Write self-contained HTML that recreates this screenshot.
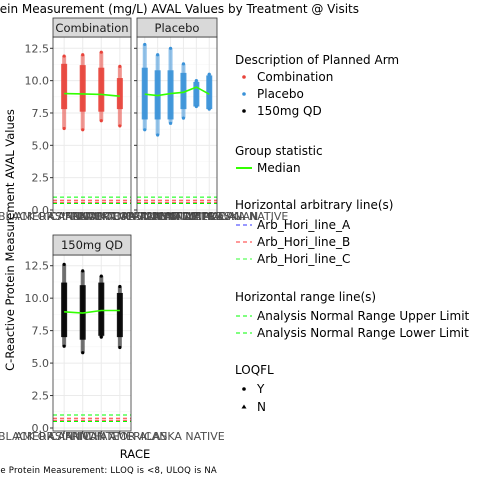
<!DOCTYPE html>
<html><head><meta charset="utf-8"><style>
body{margin:0;background:#fff}
svg{display:block;font-family:"DejaVu Sans","Liberation Sans",sans-serif}
</style></head><body>
<svg id="c" width="480" height="480" viewBox="0 0 480 480"></svg>
<script>
const races=["ASIAN","BLACK OR AFRICAN AMERICAN","WHITE","AMERICAN INDIAN OR ALASKA NATIVE","MULTIPLE","NATIVE HAWAIIAN"];
const combMin=[6.3,6.2,6.9,6.5];
const combLo=[7.8,7.6,7.6,7.8];
const combHi=[11.3,11.2,11.0,10.2];
const combMax=[11.9,12.0,12.2,11.1];
const combMed=[9.0,8.97,8.93,8.8];
const placMin=[6.2,5.8,6.7,7.1,8.0,7.8];
const placLo=[7.0,7.0,7.0,7.8,8.0,7.8];
const placHi=[11.0,10.8,10.8,10.6,9.9,10.4];
const placMax=[12.8,12.0,12.5,11.3,10.0,10.5];
const placMed=[8.95,8.85,9.0,9.1,9.5,8.95];
const qdMin=[6.3,5.8,7.0,6.2];
const qdLo=[7.0,6.8,7.1,7.0];
const qdHi=[11.2,11.0,11.2,10.4];
const qdMax=[12.6,12.1,11.7,10.9];
const qdMed=[8.95,8.85,9.05,9.05];
const yTicks=[0,2.5,5,7.5,10,12.5];
const hLines=[1.0,0.75,0.6,0.5];
const hColors=["#00ff00","#ff3333","#ff3333","#00ff00"];

const NS="http://www.w3.org/2000/svg";
const svg=document.getElementById('c');
function el(t,a,p){const e=document.createElementNS(NS,t);for(const k in a)e.setAttribute(k,a[k]);(p||svg).appendChild(e);return e;}

const panels=[
 {name:"Combination",x0:53,x1:131,top:37,strip:18,y0:210,y12:48.3,n:4,mn:combMin,lo:combLo,hi:combHi,mx:combMax,md:combMed,col:"#e8433a",lab:220},
 {name:"Placebo",x0:137,x1:217,top:37,strip:18,y0:210,y12:48.3,n:6,mn:placMin,lo:placLo,hi:placHi,mx:placMax,md:placMed,col:"#3a92d8",lab:220},
 {name:"150mg QD",x0:53,x1:131,top:255,strip:235,y0:428,y12:265.7,n:4,mn:qdMin,lo:qdLo,hi:qdHi,mx:qdMax,md:qdMed,col:"#000",lab:440}
];
panels.forEach((P,pi)=>{
 const g=el('g',{});
 
 
 const y=v=>P.y0+(P.y12-P.y0)*v/12.5;
 const bottom=P.y0+3;
 const step=(P.x1-P.x0)/(P.n+0.2);
 const x=i=>P.x0+step*(i+0.6);
 el('rect',{x:P.x0,y:P.top,width:P.x1-P.x0,height:bottom-P.top,fill:"#fff"},g);
 yTicks.forEach((t,i)=>{
  el('line',{x1:P.x0,x2:P.x1,y1:y(t),y2:y(t),stroke:"#ebebeb","stroke-width":1},g);
  if(i<5)el('line',{x1:P.x0,x2:P.x1,y1:y(t+1.25),y2:y(t+1.25),stroke:"#f4f4f4","stroke-width":0.5},g);
  if(pi!==1){const tx=el('text',{x:P.x0-4,y:y(t)+4,"text-anchor":"end","font-size":11,fill:"#4d4d4d"},g);tx.textContent=t.toFixed(1);
   }
  el('line',{x1:P.x0-3,x2:P.x0,y1:y(t),y2:y(t),stroke:"#333"},g);
 });
 for(let i=0;i<P.n;i++){
  el('line',{x1:x(i),x2:x(i),y1:P.top,y2:bottom,stroke:"#ebebeb"},g);
  el('line',{x1:x(i),x2:x(i),y1:bottom,y2:bottom+3,stroke:"#333"},g);
  const tl=el('text',{x:x(i),y:P.lab,"text-anchor":"middle","font-size":11,fill:"#4d4d4d"},g);
  tl.textContent=races[i];
  
 }
 hLines.forEach((h,i)=>{
  const l=el('line',{x1:P.x0,x2:P.x1,y1:y(h),y2:y(h),stroke:hColors[i],"stroke-width":1,"stroke-dasharray":"4,3"},g);
  
 });
 for(let i=0;i<P.n;i++){
  const r=el('rect',{x:x(i)-3,y:y(P.hi[i]),width:6,height:y(P.lo[i])-y(P.hi[i]),fill:P.col,opacity:0.9},g);
  
  const r2=el('rect',{x:x(i)-2,y:y(P.mx[i]),width:4,height:y(P.mn[i])-y(P.mx[i]),fill:P.col,opacity:0.55},g);
  
  [P.mn[i],P.mx[i]].forEach(v=>{const c=el('circle',{cx:x(i),cy:y(v),r:1.6,fill:P.col},g);
   });
 }
 const pts=P.md.map((v,i)=>x(i)+","+y(v)).join(" ");
 const ml=el('polyline',{points:pts,fill:"none",stroke:"#33ff00","stroke-width":1.6},g);
 
 el('rect',{x:P.x0,y:P.top,width:P.x1-P.x0,height:bottom-P.top,fill:"none",stroke:"#333","stroke-width":0.8},g);
 el('rect',{x:P.x0,y:P.strip,width:P.x1-P.x0,height:P.top-P.strip,fill:"#d9d9d9",stroke:"#333","stroke-width":0.8},g);
 const st=el('text',{x:(P.x0+P.x1)/2,y:P.strip+14,"text-anchor":"middle","font-size":11.5,fill:"#1a1a1a"},g);
 st.textContent=P.name;
});
</script>
<script>
const s=document.getElementById('c');
function t(x,y,txt,size,name,extra){const e=document.createElementNS("http://www.w3.org/2000/svg",'text');
 e.setAttribute('x',x);e.setAttribute('y',y);e.setAttribute('font-size',size);e.setAttribute('fill','#000');
 for(const k in (extra||{}))e.setAttribute(k,extra[k]);e.textContent=txt;
 
 
 s.appendChild(e);return e;}
t(359,13,"C-Reactive Protein Measurement (mg/L) AVAL Values by Treatment @ Visits",12,"chart-title",{"text-anchor":"end"});
t(14,240,"C-Reactive Protein Measurement AVAL Values",11.5,"y-axis-title",{"text-anchor":"middle",transform:"rotate(-90 14 240)"});
t(135,458,"RACE",11.5,"x-axis-title",{"text-anchor":"middle"});
t(217,473,"C-Reactive Protein Measurement: LLOQ is <8, ULOQ is NA",8.5,"footnote",{"text-anchor":"end","letter-spacing":"0.25"});
const L=[["Description of Planned Arm",64],["Group statistic",155],["Horizontal arbitrary line(s)",209],["Horizontal range line(s)",301],["LOQFL",374]];
L.forEach(a=>t(235,a[1],a[0],12,"legend-title"));
const items=[["Combination",81,"dot","#e8433a"],["Placebo",98,"dot","#3a92d8"],["150mg QD",115,"dot","#000"],["Median",172,"line","#33ff00"],
["Arb_Hori_line_A",229,"dash","#3333ff"],["Arb_Hori_line_B",246,"dash","#ff3333"],["Arb_Hori_line_C",263,"dash","#33ff33"],
["Analysis Normal Range Upper Limit",320,"dash","#00ff00"],["Analysis Normal Range Lower Limit",337,"dash","#00ff00"],["Y",393,"dot","#000"],["N",411,"tri","#000"]];
items.forEach(it=>{
 const [lab,yy,kind,col]=it;const cy=yy-4;
 let m;
 if(kind==="dot"){m=document.createElementNS("http://www.w3.org/2000/svg",'circle');m.setAttribute('cx',244);m.setAttribute('cy',cy);m.setAttribute('r',1.8);m.setAttribute('fill',col);}
 else if(kind==="tri"){m=document.createElementNS("http://www.w3.org/2000/svg",'polygon');m.setAttribute('points',`244,${cy-2.5} 241.5,${cy+1.5} 246.5,${cy+1.5}`);m.setAttribute('fill',col);}
 else{m=document.createElementNS("http://www.w3.org/2000/svg",'line');m.setAttribute('x1',236);m.setAttribute('x2',252);m.setAttribute('y1',cy);m.setAttribute('y2',cy);m.setAttribute('stroke',col);m.setAttribute('stroke-width',kind==="line"?2:1);if(kind==="dash")m.setAttribute('stroke-dasharray','4,3');}
 
 
 s.appendChild(m);
 t(257,yy,lab,12,"legend-entry");
});
</script>
</body></html>
